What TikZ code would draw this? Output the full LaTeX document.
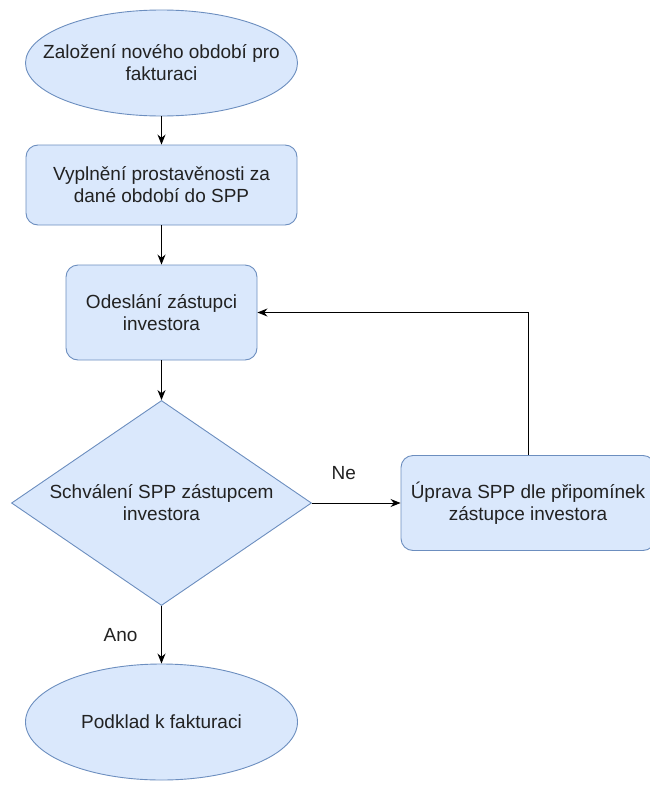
\documentclass[tikz,border=0pt]{standalone}
\usepackage{fontspec}
\setmainfont{Liberation Sans}
\usetikzlibrary{shapes.geometric,arrows.meta}
\definecolor{bluefill}{HTML}{DAE8FC}
\definecolor{bluedraw}{HTML}{6C8EBF}
\definecolor{textdark}{HTML}{222222}
\tikzset{
  blocco/.style={draw=bluedraw, fill=bluefill, line width=0.9pt, text=textdark, align=center, font=\fontsize{19}{22}\selectfont},
  termine/.style={blocco, ellipse, inner xsep=-40pt, inner ysep=0pt, minimum width=272pt},
  passo/.style={blocco, rectangle, rounded corners=12pt, inner sep=0pt},
  scelta/.style={blocco, diamond, aspect=1.46, inner sep=0pt, minimum width=300pt, minimum height=205pt},
  freccia/.style={-{Stealth[length=10pt,width=8pt]}, line width=0.9pt},
  etichetta/.style={text=textdark, font=\fontsize{19}{22}\selectfont}
}
\begin{document}
\begin{tikzpicture}[x=1pt, y=-1pt]
            \useasboundingbox (0,0) rectangle (649,787);

            % Disegna i blocchi
            \node[termine, minimum height=106pt] (inizio) at (161.5,63) {Založení nového období pro\\fakturaci};
            \node[passo, minimum width=271pt, minimum height=80pt] (compilazione) at (161.5,185) {Vyplnění prostavěnosti za\\dané období do SPP};
            \node[passo, minimum width=191pt, minimum height=95pt] (invio) at (161.5,312.5) {Odeslání zástupci\\investora};
            \node[scelta] (approvazione) at (161.5,503) {Schválení SPP zástupcem\\investora};
            \node[passo, minimum width=254pt, minimum height=95pt] (correzione) at (528,503) {Úprava SPP dle připomínek\\zástupce investora};
            \node[termine, minimum height=116pt] (fine) at (161.5,722) {Podklad k fakturaci};

            % Disegna le frecce
            \draw[freccia] (inizio) -- (compilazione);
            \draw[freccia] (compilazione) -- (invio);
            \draw[freccia] (invio) -- (approvazione);
            \draw[freccia] (approvazione) -- node[etichetta, pos=0.36, yshift=30pt] {Ne} (correzione);
            \draw[freccia] (correzione.north) |- (invio.east);
            \draw[freccia] (approvazione) -- node[etichetta, xshift=-41pt] {Ano} (fine);
        \end{tikzpicture}
\end{document}
